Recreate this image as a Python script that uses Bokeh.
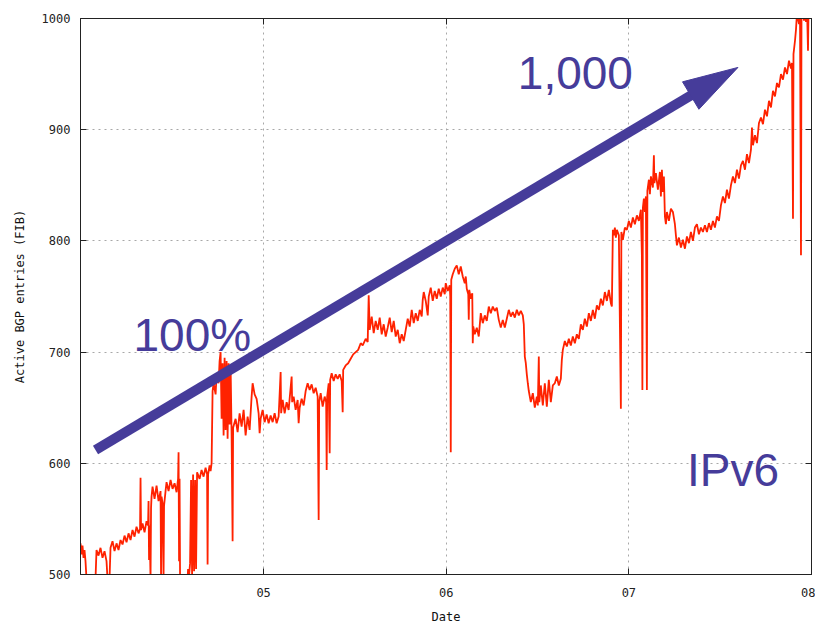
import math

from bokeh.embed import file_html
from bokeh.models import FixedTicker, Label, LinearAxis, Range1d
from bokeh.plotting import figure
from bokeh.resources import INLINE

# Active IPv6 BGP FIB entries, Jan 2004 .. Jan 2008
# day: days since 1 Jan 2004
day = [
    0, 2, 4, 6, 8, 10, 12, 30, 32, 36, 40, 44, 48, 52, 54, 58, 60, 64, 68, 72,
    76, 80, 84, 88, 92, 96, 100, 104, 108, 112, 116, 119, 120, 121, 124, 128,
    132, 135, 136, 137, 138, 140, 141, 142, 144, 148, 152, 156, 160, 161, 162,
    164, 166, 167, 170, 172, 176, 180, 184, 188, 192, 195, 196, 197, 198, 199,
    214, 215, 217, 219, 221, 223, 225, 227, 229, 231, 233, 238, 242, 246, 250,
    253, 254, 255, 258, 260, 262, 264, 266, 270, 272, 276, 278, 280, 282, 284,
    286, 288, 290, 292, 294, 296, 298, 300, 302, 304, 305, 310, 314, 318, 322,
    326, 330, 334, 338, 342, 344, 348, 352, 356, 358, 360, 364,
    368, 372, 376, 380, 384, 388, 392, 396, 400, 401, 404, 408, 412, 416, 422,
    423, 426, 430, 434, 436, 438, 442, 446, 450, 454, 458, 462, 466, 470, 474,
    476, 477, 480, 484, 488, 491, 492, 493, 496, 498, 499, 502, 506, 510, 514,
    518, 522, 524, 525, 530, 535, 540, 545, 550, 555, 560, 564, 570, 574, 576,
    578, 582, 586, 590, 594, 598, 602, 606, 610, 614, 618, 622, 626, 630, 634,
    638, 642, 646, 650, 654, 658, 662, 666, 670, 674, 678, 682, 684, 686, 690,
    694, 696, 700, 704, 708, 712, 716, 720, 724, 728, 730, 734, 738, 739, 740,
    741, 744, 748,
    752, 756, 760, 764, 768, 770, 772, 775, 776, 777, 780, 783, 784, 785, 788,
    792, 796, 800, 804, 808, 812, 816, 820, 824, 828, 832, 836, 840, 844, 848,
    852, 856, 860, 864, 868, 872, 876, 880, 884, 886, 888, 890, 892, 894, 896,
    900, 904, 908, 912, 914, 916, 917, 920, 924, 928, 932, 936, 940, 944, 948,
    952, 956, 960, 962, 964, 968, 972, 976, 980, 984, 988, 992, 996, 1000,
    1004, 1008, 1012, 1016, 1020, 1024, 1028, 1032, 1036, 1040, 1044, 1048,
    1052, 1056, 1060, 1062, 1064, 1066, 1068, 1070, 1072, 1076, 1080, 1081,
    1084, 1088, 1092, 1096, 1100, 1104, 1108, 1112, 1116, 1120, 1122, 1123,
    1124, 1126, 1128, 1130, 1132, 1133, 1136, 1138, 1140, 1144, 1146, 1147,
    1150, 1154, 1158, 1160, 1162, 1164, 1166, 1168, 1170, 1172, 1176, 1180,
    1184, 1188, 1190, 1192, 1196, 1200, 1204, 1208, 1212, 1216, 1220, 1224,
    1228, 1232, 1236, 1240, 1244, 1248, 1252, 1256, 1260, 1264, 1268, 1272,
    1276, 1280, 1284, 1288, 1292, 1296, 1300, 1304, 1308, 1312, 1316, 1320,
    1324, 1328, 1332, 1336, 1340, 1342, 1344, 1348, 1352, 1356, 1360, 1364,
    1368, 1372, 1376, 1380, 1384, 1388, 1392, 1396, 1400, 1404, 1408, 1412,
    1416, 1420, 1422, 1424, 1425, 1428, 1430, 1432, 1436, 1438, 1440, 1441,
    1444, 1446, 1448, 1450, 1452, 1454, 1455, 1458,
]

fib_entries = [
    528, 518, 526, 515, 522, 512, 496, 496, 522, 517, 524, 515, 521, 512, 496, 496, 524, 530, 521, 528,
    522, 531, 527, 535, 529, 537, 531, 540, 534, 543, 537, 541, 587, 540, 546, 538,
    548, 544, 566, 513, 544, 496, 560, 570, 579, 568, 580, 566, 575, 497, 570,
    564, 497, 562, 575, 583, 575, 585, 577, 582, 574, 586, 610, 512, 586, 496,
    496, 505, 499, 510, 585, 500, 590, 503, 585, 505, 592, 586, 594, 588, 596,
    590, 509, 590, 598, 593, 600, 665, 672, 662, 680, 672, 692, 700, 640, 690,
    625, 695, 630, 692, 622, 690, 635, 688, 625, 530, 632, 640, 628, 645, 633,
    648, 625, 642, 630, 660, 672, 662, 658, 645, 627, 640, 648,
    637, 644, 636, 643, 637, 645, 636, 642, 682, 645, 657, 645, 655, 648, 678,
    655, 660, 648, 657, 636, 650, 658, 652, 665, 672, 666, 671, 663, 668, 660,
    549, 655, 663, 651, 660, 655, 594, 660, 672, 609, 675, 681, 674, 680, 676,
    680, 674, 646, 684, 688, 690, 694, 698, 700, 702, 708, 706, 712, 709, 751,
    720, 732, 717, 728, 720, 731, 716, 725, 714, 722, 731, 718, 728, 714, 720,
    708, 716, 710, 720, 730, 723, 738, 726, 735, 728, 738, 732, 747, 754, 746,
    733, 750, 758, 746, 755, 748, 757, 750, 758, 752, 762, 755, 760, 750, 610,
    765, 770, 775,
    778, 770, 777, 768, 762, 768, 757, 752, 729, 756, 748, 753, 708, 723, 716,
    722, 714, 735, 726, 733, 728, 741, 735, 741, 737, 740, 729, 722, 729, 722,
    730, 738, 732, 736, 731, 738, 733, 737, 733, 725, 696, 690, 680, 672, 665,
    655, 663, 650, 660, 652, 696, 655, 670, 652, 672, 651, 675, 655, 670, 672,
    678, 670, 676, 693, 702, 710, 705, 712, 706, 714, 708, 716, 712, 725,
    720, 730, 723, 735, 728, 738, 730, 742, 738, 748, 742, 754,
    746, 756, 744, 741, 810, 805, 812, 803, 810, 805, 649, 808,
    801, 812, 810, 818, 812, 821, 815, 823, 818, 828, 787, 666,
    830, 838, 826, 840, 666, 845, 855, 842, 858, 848, 877, 852,
    861, 846, 862, 840, 864, 844, 858, 822, 815, 826, 818, 829,
    826, 815, 805, 796, 803, 794, 801, 793, 804, 798, 808, 800,
    812, 815, 806, 812, 808, 814, 808, 816, 810, 818, 812, 822,
    818, 832, 840, 834, 846, 838, 850, 858, 852, 864, 856, 868,
    872, 864, 878, 870, 882, 902, 886, 895, 888, 906, 911, 905,
    918, 912, 926, 920, 935, 930, 942, 938, 950, 945, 956, 950,
    962, 955, 960, 820, 968, 980, 990, 1005, 995, 1008, 787, 1004,
    1010, 998, 1006, 997, 1010, 971, 1006, 1003,
]

# axis ticks: 1 Jan of each year (days since 1 Jan 2004)
year_tick_days = [366, 731, 1096, 1461]
year_tick_labels = ["05", "06", "07", "08"]
entry_ticks = [500, 600, 700, 800, 900, 1000]

LINE_RED = "#ff2200"
NOTE_BLUE = "#463c9a"
FRAME = "#222222"
MONO = "DejaVu Sans Mono"

W, H = 815, 626
LEFT, RIGHT, TOP, BOTTOM = 80, 4, 18, 51
X0, X1 = 0, 1461
Y0, Y1 = 500, 1000

p = figure(
    width=W, height=H, output_backend="svg", toolbar_location=None,
    x_range=Range1d(X0, X1), y_range=Range1d(Y0, Y1),
    min_border_left=LEFT, min_border_right=RIGHT,
    min_border_top=TOP, min_border_bottom=BOTTOM,
    background_fill_color="white", border_fill_color="white",
    outline_line_color=FRAME, outline_line_width=1,
)

# primary axes
xa = p.xaxis[0]
xa.ticker = FixedTicker(ticks=year_tick_days)
xa.major_label_overrides = dict(zip(year_tick_days, year_tick_labels))
xa.axis_label = "Date"
ya = p.yaxis[0]
ya.ticker = FixedTicker(ticks=entry_ticks)
ya.axis_label = "Active BGP entries (FIB)"

for ax in (xa, ya):
    ax.axis_line_color = FRAME
    ax.major_tick_line_color = FRAME
    ax.major_tick_in = 6
    ax.major_tick_out = 0
    ax.minor_tick_line_color = None
    ax.major_label_text_font = MONO
    ax.major_label_text_font_size = "12px"
    ax.major_label_text_color = "#222222"
    ax.axis_label_text_font = MONO
    ax.axis_label_text_font_size = "12px"
    ax.axis_label_text_font_style = "normal"
    ax.axis_label_text_color = "#111111"

xa.major_label_standoff = 13
xa.axis_label_standoff = 10
ya.major_label_standoff = 10
ya.axis_label_standoff = 12

# mirrored tick marks on the top and right edges (no labels)
top_ax = LinearAxis(ticker=FixedTicker(ticks=year_tick_days))
right_ax = LinearAxis(ticker=FixedTicker(ticks=entry_ticks))
for ax in (top_ax, right_ax):
    ax.axis_line_color = FRAME
    ax.major_tick_line_color = FRAME
    ax.major_tick_in = 6
    ax.major_tick_out = 0
    ax.minor_tick_line_color = None
    ax.major_label_text_font_size = "1px"
    ax.major_label_text_alpha = 0
    ax.major_label_standoff = 0
top_ax.major_label_overrides = {t: "" for t in year_tick_days}
right_ax.major_label_overrides = {t: "" for t in entry_ticks}
p.add_layout(top_ax, "above")
p.add_layout(right_ax, "right")

# dotted grid
p.xgrid.ticker = FixedTicker(ticks=year_tick_days)
p.ygrid.ticker = FixedTicker(ticks=entry_ticks)
for g in (p.xgrid[0], p.ygrid[0]):
    g.grid_line_color = "#a8a8a8"
    g.grid_line_dash = "2 4"
    g.grid_line_width = 1

# the FIB entry count series
p.line(day, fib_entries, line_color=LINE_RED, line_width=1.8)

# growth arrow, drawn in data space with a pixel-sized head
frame_w = W - LEFT - RIGHT
frame_h = H - TOP - BOTTOM
sx = frame_w / (X1 - X0)   # px per day
sy = frame_h / (Y1 - Y0)   # px per entry

tail = (30, 612)
tip = (1314, 956)
head_len, head_w, shaft_w = 55, 32, 10

ux = (tip[0] - tail[0]) * sx
uy = (tip[1] - tail[1]) * sy
n = math.hypot(ux, uy)
ux, uy = ux / n, uy / n
vx, vy = -uy, ux
base = (tip[0] - head_len * ux / sx, tip[1] - head_len * uy / sy)
shaft_end = (base[0] + 3 * ux / sx, base[1] + 3 * uy / sy)

p.segment(x0=[tail[0]], y0=[tail[1]], x1=[shaft_end[0]], y1=[shaft_end[1]],
          line_color=NOTE_BLUE, line_width=shaft_w, line_cap="butt")
p.patch(
    x=[tip[0], base[0] + head_w / 2 * vx / sx, base[0] - head_w / 2 * vx / sx],
    y=[tip[1], base[1] + head_w / 2 * vy / sy, base[1] - head_w / 2 * vy / sy],
    fill_color=NOTE_BLUE, line_color=NOTE_BLUE, line_width=1,
)

# callout texts
for txt, x, y in (("1,000", 874, 951), ("100%", 106, 715), ("IPv6", 1212, 594)):
    p.add_layout(Label(
        x=x, y=y, text=txt, text_font="Liberation Sans", text_font_size="46px",
        text_color=NOTE_BLUE, text_baseline="alphabetic", text_align="left",
    ))

with open("out.html", "w") as f:
    f.write(file_html(p, INLINE))
